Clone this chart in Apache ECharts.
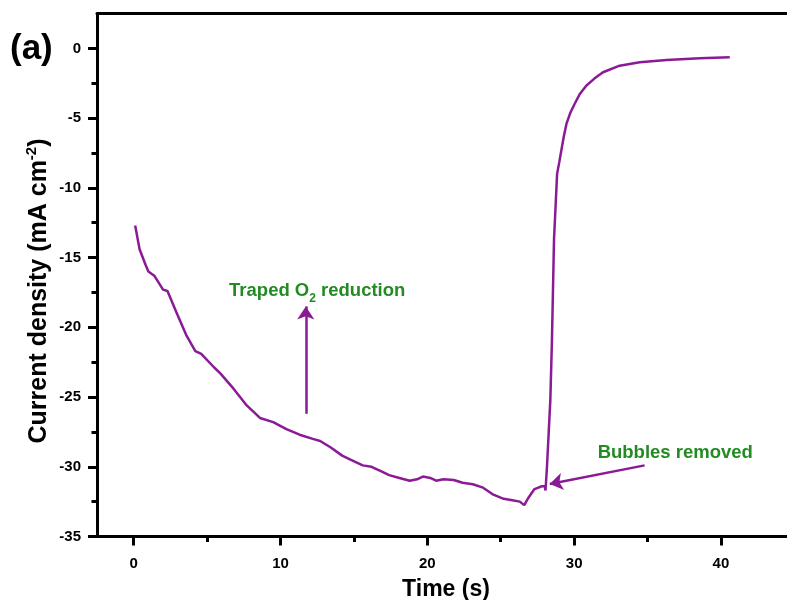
<!DOCTYPE html>
<html>
<head>
<meta charset="utf-8">
<script src="https://cdn.jsdelivr.net/npm/echarts@6/dist/echarts.min.js"></script>
<style>html,body{margin:0;padding:0;background:#fff}#c{width:787px;height:600px}</style>
</head>
<body>
<div id="c"></div>
<script>
// ---- data ----
const timeS = [0.1,0.4,0.8,1.0,1.4,2.0,2.3,2.9,3.6,4.2,4.6,5.5,5.9,6.8,7.7,8.6,9.5,10.4,11.3,12.2,12.7,13.4,14.2,14.8,15.6,16.2,16.8,17.4,18.1,18.8,19.3,19.7,20.2,20.6,21.1,21.8,22.4,23.1,23.8,24.5,25.2,25.8,26.3,26.6,26.9,27.3,27.8,28.0,28.05,28.15,28.27,28.38,28.49,28.63,28.84,29.0,29.13,29.3,29.48,29.75,30.04,30.4,30.84,31.4,31.97,33.1,34.47,36.3,38.56,40.6];
const currentDensity = [-12.7,-14.4,-15.5,-16.0,-16.3,-17.3,-17.4,-18.9,-20.6,-21.7,-21.9,-22.9,-23.3,-24.4,-25.6,-26.5,-26.8,-27.3,-27.7,-28.0,-28.15,-28.6,-29.2,-29.5,-29.9,-30.0,-30.3,-30.6,-30.8,-31.0,-30.9,-30.7,-30.8,-31.0,-30.9,-30.95,-31.15,-31.25,-31.5,-32.0,-32.3,-32.4,-32.5,-32.75,-32.2,-31.6,-31.4,-31.4,-31.7,-30.0,-27.5,-25.2,-20.9,-13.7,-9.0,-8.1,-7.3,-6.3,-5.4,-4.6,-3.97,-3.25,-2.66,-2.15,-1.71,-1.24,-1.0,-0.83,-0.71,-0.63];
const xMajorTicks = [0,10,20,30,40];
const xMinorTicks = [5,15,25,35];
const yMajorTicks = [-35,-30,-25,-20,-15,-10,-5,0];
const yMinorTicks = [-32.5,-27.5,-22.5,-17.5,-12.5,-7.5,-2.5];
// annotations (data coordinates)
const o2ArrowFrom = [11.72,-26.2];
const o2ArrowTo = [11.72,-18.5];
const o2LabelAt = [12.5,-17.55];
const bubbleArrowFrom = [34.8,-29.9];
const bubbleArrowTo = [28.34,-31.24];
const bubbleLabelAt = [36.89,-28.98];

const purple = '#8B1A96';
const green = '#228B22';
const FONT = 'Liberation Sans, Arial, sans-serif';

const chart = echarts.init(document.getElementById('c'), null, {renderer:'canvas'});
const baseLbl = {fontFamily: FONT, fontWeight:'bold', fontSize:15, color:'#000'};
const X_MIN = -2.5, X_MAX = 44.5, Y_MIN = -35, Y_MAX = 2.5;

function xAx(ticks, len, labels, name, pos){
  const a = {
    type:'value', min:X_MIN, max:X_MAX, position:pos || 'bottom', gridIndex:0,
    axisLine:{show: labels || pos === 'top', onZero:false, lineStyle:{color:'#000', width:3}},
    axisTick: ticks ? {show:true, customValues:ticks, length:len, inside:false, lineStyle:{color:'#000', width:3}} : {show:false},
    axisLabel: labels ? Object.assign({show:true, customValues:ticks, margin:20}, baseLbl) : {show:false},
    splitLine:{show:false}
  };
  if (name) {
    a.name = name; a.nameLocation = 'middle'; a.nameGap = 42;
    a.nameTextStyle = {fontFamily:FONT, fontWeight:'bold', fontSize:23, color:'#000', padding:[0,0,0,8]};
  }
  return a;
}
function yAx(ticks, len, labels){
  return {
    type:'value', min:Y_MIN, max:Y_MAX, position:'left', gridIndex:0,
    axisLine:{show: !!labels, onZero:false, lineStyle:{color:'#000', width:3}},
    axisTick:{show:true, customValues:ticks, length:len, inside:false, lineStyle:{color:'#000', width:3}},
    axisLabel: labels ? Object.assign({show:true, customValues:ticks, margin:16}, baseLbl) : {show:false},
    splitLine:{show:false}
  };
}

const option = {
  animation:false,
  backgroundColor:'#fff',
  grid:{left:97, right:0, top:13.5, height:523, show:false, containLabel:false, outerBoundsMode:'none'},
  xAxis:[xAx(xMajorTicks, 9, true, 'Time (s)'), xAx(xMinorTicks, 5.5, false), xAx(null, 0, false, null, 'top')],
  yAxis:[yAx(yMajorTicks, 9, true), yAx(yMinorTicks, 5.5, false)],
  graphic:[
    {type:'text', left:10, top:32, style:{text:'(a)', fontFamily:FONT, fontWeight:'bold', fontSize:35, fill:'#000'}},
    {type:'text', x:38, y:291, rotation:Math.PI/2,
      style:{text:'{m|Current density (mA cm}{s|-2}{m|)}', align:'center', verticalAlign:'middle',
        rich:{m:{fontFamily:FONT, fontWeight:'bold', fontSize:25, lineHeight:28, fill:'#000', verticalAlign:'bottom'},
              s:{fontFamily:FONT, fontWeight:'bold', fontSize:15, lineHeight:28, fill:'#000', verticalAlign:'top'}}}}
  ],
  series:[{
    type:'line', xAxisIndex:0, yAxisIndex:0,
    data: timeS.map((t,i)=>[t, currentDensity[i]]),
    showSymbol:false, symbol:'none', smooth:false,
    lineStyle:{color:purple, width:2.5},
    emphasis:{disabled:true},
    markLine:{
      silent:true, symbol:['none','arrow'], symbolSize:13,
      label:{show:false},
      lineStyle:{color:purple, width:2.5, type:'solid'},
      emphasis:{disabled:true},
      data:[
        [{coord:o2ArrowFrom}, {coord:o2ArrowTo}],
        [{coord:bubbleArrowFrom}, {coord:bubbleArrowTo}]
      ]
    },
    markPoint:{
      silent:true, symbol:'circle', symbolSize:1,
      itemStyle:{color:'rgba(0,0,0,0)'},
      emphasis:{disabled:true},
      data:[
        {coord:o2LabelAt, label:{show:true, position:'inside',
          formatter:'{m|Traped O}{s|2}{m| reduction}',
          rich:{m:{fontFamily:FONT, fontWeight:'bold', fontSize:18.5, lineHeight:24, color:green, verticalAlign:'top'},
                s:{fontFamily:FONT, fontWeight:'bold', fontSize:12, lineHeight:24, color:green, verticalAlign:'bottom'}}}},
        {coord:bubbleLabelAt, label:{show:true, position:'inside',
          formatter:'Bubbles removed', fontFamily:FONT, fontWeight:'bold', fontSize:18.5, color:green}}
      ]
    }
  }]
};
chart.setOption(option);
</script>
</body>
</html>
